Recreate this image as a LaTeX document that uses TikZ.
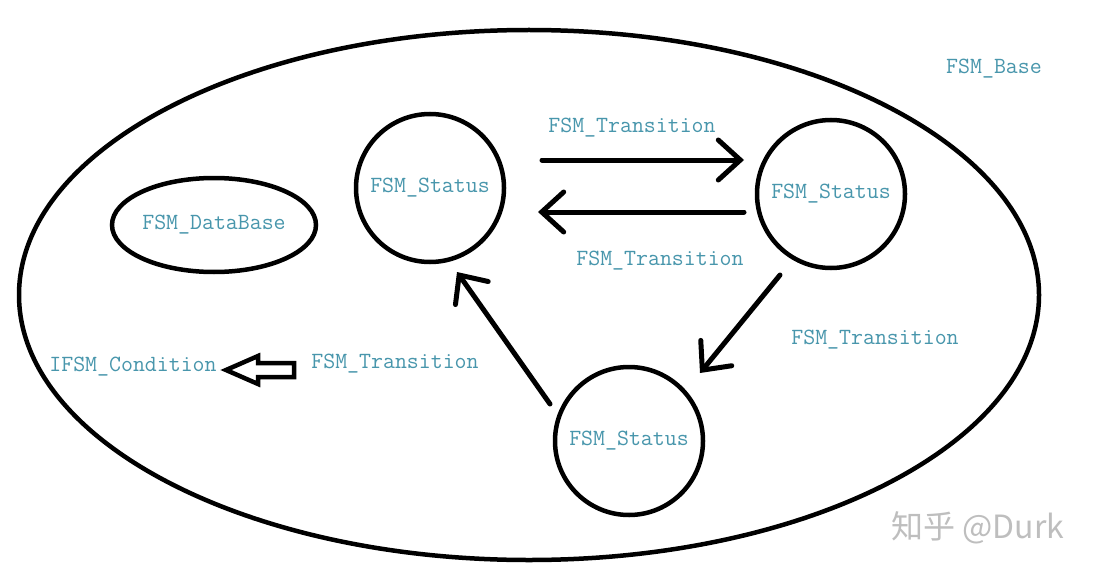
\documentclass[tikz,border=0pt]{standalone}
\usepackage{fontspec}
\newfontfamily\cjk{Noto Sans CJK SC}
\usetikzlibrary{arrows.meta,positioning,shapes.geometric}
\definecolor{LabelTeal}{RGB}{72, 150, 172}
\definecolor{MarkGray}{RGB}{190, 190, 190}
\tikzset{
  lbl/.style={text=LabelTeal, font=\ttfamily\fontsize{23.2}{25}\selectfont, inner sep=0pt},
  status/.style={circle, draw, line width=4.5pt, minimum size=148pt, inner sep=0pt, lbl},
  trans/.style={line width=5pt, line cap=round, -{Straight Barb[length=22pt,width=40pt,line cap=round]}}
}
\begin{document}
\begin{tikzpicture}[x=1pt, y=-1pt]
  \useasboundingbox (0,0) rectangle (1097,575);
  \fill[white] (0,0) rectangle (1097,575);

  % outer frame
  \draw[line width=4.5pt] (529,295) ellipse [x radius=510, y radius=265];
  \node[lbl] (base) at (994,69) {FSM\_Base};

  % database
  \node[draw, ellipse, line width=4.5pt, minimum width=204pt, minimum height=94pt, lbl] (db) at (214,225) {FSM\_DataBase};

  % states
  \node[status] (s1) at (430,188) {FSM\_Status};
  \node[status] (s2) at (831,194) {FSM\_Status};
  \node[status] (s3) at (629,441) {FSM\_Status};

  % arrow ends
  \coordinate (a1) at (542,160);
  \coordinate (b1) at (744,160);
  \coordinate (a2) at (744,212);
  \coordinate (b2) at (538,212);
  \coordinate (a3) at (780,275);
  \coordinate (b3) at (700,373);
  \coordinate (a4) at (550,404);
  \coordinate (b4) at (457,272);

  \draw[trans] (a1) -- (b1);
  \draw[trans] (a2) -- (b2);
  \draw[trans] (a3) -- (b3);
  \draw[trans] (a4) -- (b4);

  \node[lbl] (t1) at (632,128) {FSM\_Transition};
  \node[lbl] (t2) at (660,261) {FSM\_Transition};
  \node[lbl] (t3) at (875,340) {FSM\_Transition};
  \node[lbl] (t4) at (395,364) {FSM\_Transition};

  % condition
  \node[lbl] (cond) at (133,367) {IFSM\_Condition};
  \draw[line width=4.5pt, line join=miter] (226,370) -- (258,356) -- (258,363) -- (294,363)
    -- (294,377) -- (258,377) -- (258,384) -- cycle;

  \node[text=MarkGray, font=\cjk\fontsize{32}{34}\selectfont, inner sep=0pt] (mark) at (978,528) {知乎 @Durk};
\end{tikzpicture}
\end{document}
